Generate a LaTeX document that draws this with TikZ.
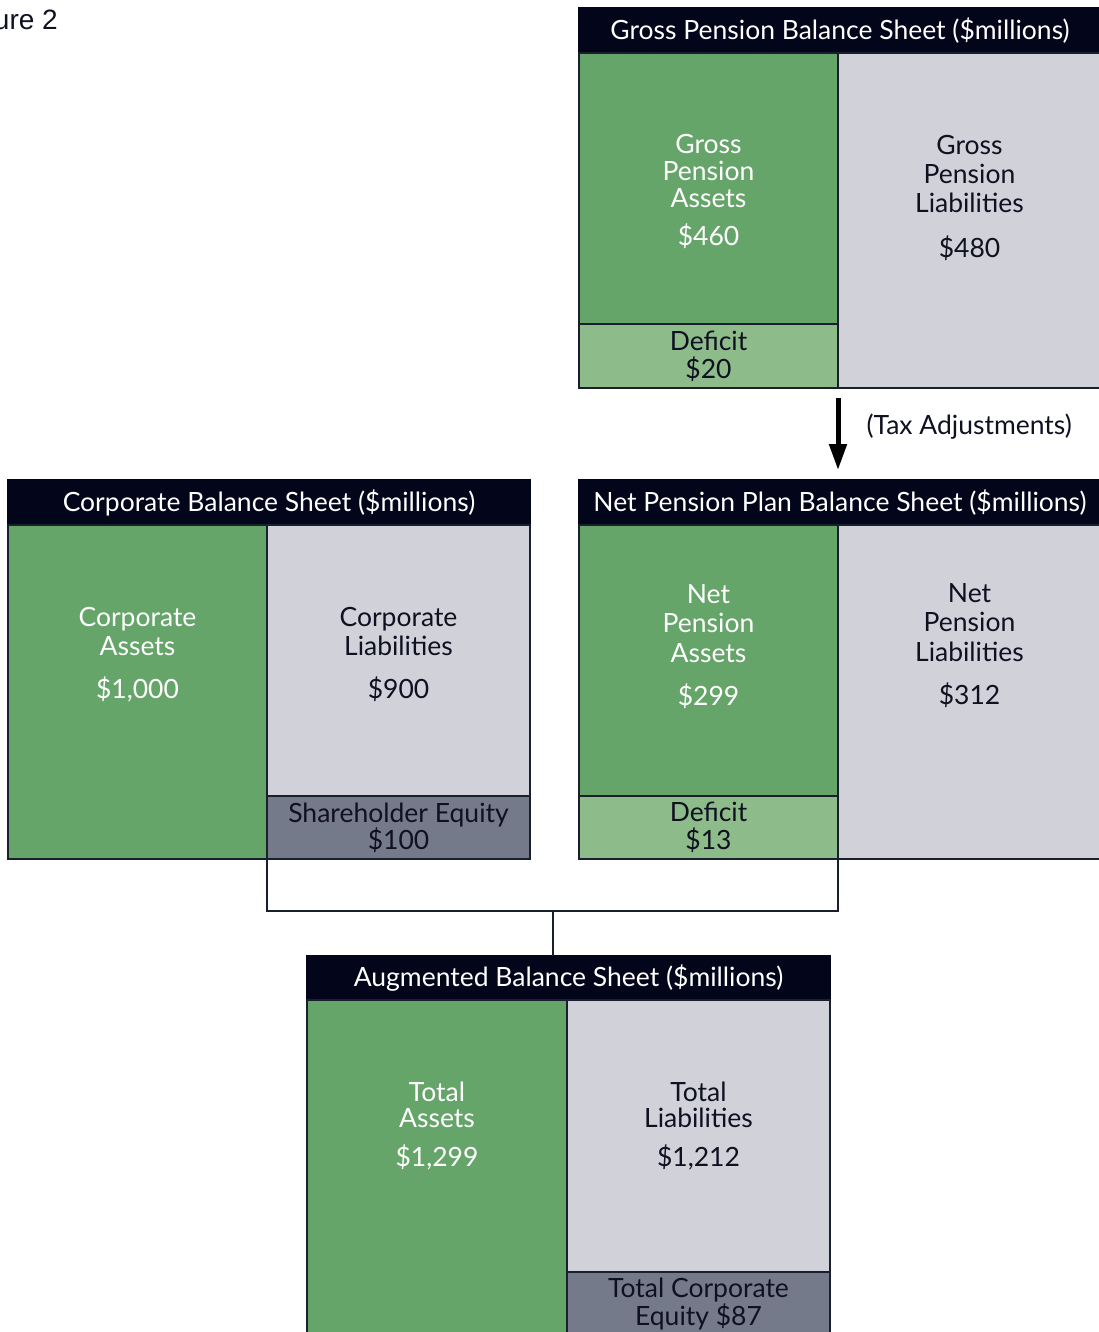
\documentclass[tikz,border=0pt]{standalone}
\usepackage{fontspec}
\setmainfont{Lato}
\newfontfamily\figfont{Liberation Sans}
\usetikzlibrary{positioning,arrows.meta}

\definecolor{hdrnavy}{HTML}{03051A}
\definecolor{assetgreen}{HTML}{66A56A}
\definecolor{deficitgreen}{HTML}{8EBB8A}
\definecolor{liabgray}{HTML}{D1D1DA}
\definecolor{equitygray}{HTML}{757A8A}
\definecolor{edgeline}{HTML}{1A1F2E}
\definecolor{inktext}{HTML}{0F1020}

\begin{document}
\begin{tikzpicture}[x=1pt,y=-1pt]
    \useasboundingbox (0,0) rectangle (1099,1332);
    \clip (0,0) rectangle (1099,1332);

    % --- DEFINE STYLES ---
    % Style for every cell of a balance sheet
    \tikzstyle{cell} = [draw=edgeline, line width=2.5pt, inner sep=0pt, outer sep=0pt, anchor=north west,
        align=center, font=\fontsize{26.5}{27}\selectfont]
    % Black title bar
    \tikzstyle{header} = [cell, fill=hdrnavy, draw=hdrnavy, text=white, minimum width=522pt, minimum height=45pt]
    % Left column (assets) and right column (liabilities)
    \tikzstyle{assets} = [cell, fill=assetgreen, minimum width=259pt, minimum height=271pt]
    \tikzstyle{liabs} = [cell, fill=liabgray, minimum width=263pt, minimum height=335pt]
    % Bottom cells
    \tikzstyle{deficit} = [cell, fill=deficitgreen, text=inktext, minimum width=259pt, minimum height=64pt]
    \tikzstyle{equity} = [cell, fill=equitygray, text=inktext, minimum width=263pt, minimum height=64pt]
    % Texts inside the columns
    \tikzstyle{lighttext} = [inner sep=0pt, align=center, text=white, font=\fontsize{26.5}{28}\selectfont]
    \tikzstyle{darktext} = [lighttext, text=inktext]
    % Connectors
    \tikzstyle{link} = [draw=edgeline, line width=2.5pt]
    \tikzstyle{taxarrow} = [draw=black, line width=5pt, -{Triangle[width=17pt,length=26pt]}]

    \node[anchor=base east, inner sep=0pt, text=inktext, font=\figfont\fontsize{28}{30}\selectfont] (fig) at (58,30) {Figure 2};

    % --- GROSS PENSION BALANCE SHEET ---
    \node[header] (gross) at (579,8) {Gross Pension Balance Sheet (\$millions)};
    \node[assets] (gross assets) at (gross.south west) {};
    \node[liabs] (gross liabs) at (gross assets.north east) {};
    \node[deficit, font=\fontsize{26.5}{27}\selectfont] (gross deficit) at (gross assets.south west) {Deficit\\[1pt]\$20};
    \node[lighttext, anchor=north, font=\fontsize{26.5}{27}\selectfont, below=81pt of gross assets.north] (gross assets txt) {Gross\\Pension\\Assets\\[11pt]\$460};
    \node[darktext, anchor=north, font=\fontsize{26.5}{29}\selectfont, below=82pt of gross liabs.north] (gross liabs txt) {Gross\\Pension\\Liabilities\\[16pt]\$480};

    % --- TAX ADJUSTMENTS ---
    \node[header] (net) at (579,480) {Net Pension Plan Balance Sheet (\$millions)};
    \coordinate (tax end) at (gross deficit.south east |- net.north);
    \draw[taxarrow] ([yshift=-10pt]gross deficit.south east) -- ([yshift=10pt]tax end)
        node[midway, right=26pt, yshift=7pt, inner sep=0pt, text=inktext, font=\fontsize{26.5}{28}\selectfont] (tax) {(Tax Adjustments)};

    % --- NET PENSION PLAN BALANCE SHEET ---
    \node[assets, minimum height=271pt] (net assets) at (net.south west) {};
    \node[liabs, minimum height=334pt] (net liabs) at (net assets.north east) {};
    \node[deficit, minimum height=63pt, font=\fontsize{26.5}{28}\selectfont] (net deficit) at (net assets.south west) {Deficit\\\$13};
    \node[lighttext, anchor=north, font=\fontsize{26.5}{29.5}\selectfont, below=59pt of net assets.north] (net assets txt) {Net\\Pension\\Assets\\[14pt]\$299};
    \node[darktext, anchor=north, font=\fontsize{26.5}{29.5}\selectfont, below=58pt of net liabs.north] (net liabs txt) {Net\\Pension\\Liabilities\\[14pt]\$312};

    % --- CORPORATE BALANCE SHEET ---
    \node[header] (corp) at (8,480) {Corporate Balance Sheet (\$millions)};
    \node[assets, minimum height=334pt] (corp assets) at (corp.south west) {};
    \node[liabs, minimum height=271pt] (corp liabs) at (corp assets.north east) {};
    \node[equity, minimum height=63pt, font=\fontsize{26.5}{26}\selectfont] (corp equity) at (corp liabs.south west) {Shareholder Equity\\\$100};
    \node[lighttext, anchor=north, font=\fontsize{26.5}{29}\selectfont, below=82pt of corp assets.north] (corp assets txt) {Corporate\\Assets\\[14pt]\$1,000};
    \node[darktext, anchor=north, font=\fontsize{26.5}{29}\selectfont, below=82pt of corp liabs.north] (corp liabs txt) {Corporate\\Liabilities\\[14pt]\$900};

    % --- AUGMENTED BALANCE SHEET ---
    \node[header, minimum width=523pt, minimum height=44pt] (aug) at (307,956) {Augmented Balance Sheet (\$millions)};
    \node[assets, minimum width=260pt, minimum height=336pt] (aug assets) at (aug.south west) {};
    \node[liabs, minimum height=272pt] (aug liabs) at (aug assets.north east) {};
    \node[equity, font=\fontsize{26.5}{26}\selectfont] (aug equity) at (aug liabs.south west) {Total Corporate\\Equity \$87};
    \node[lighttext, anchor=north, font=\fontsize{26.5}{26}\selectfont, below=82pt of aug assets.north] (aug assets txt) {Total\\Assets\\[13pt]\$1,299};
    \node[darktext, anchor=north, font=\fontsize{26.5}{26}\selectfont, below=82pt of aug liabs.north] (aug liabs txt) {Total\\Liabilities\\[13pt]\$1,212};

    % Join corporate and net pension sheets
    \coordinate (join) at (553,911);
    \draw[link] (corp equity.south west) |- (join) -| (net deficit.south east);
    \draw[link] (join) -- (join |- aug.north);
\end{tikzpicture}
\end{document}
